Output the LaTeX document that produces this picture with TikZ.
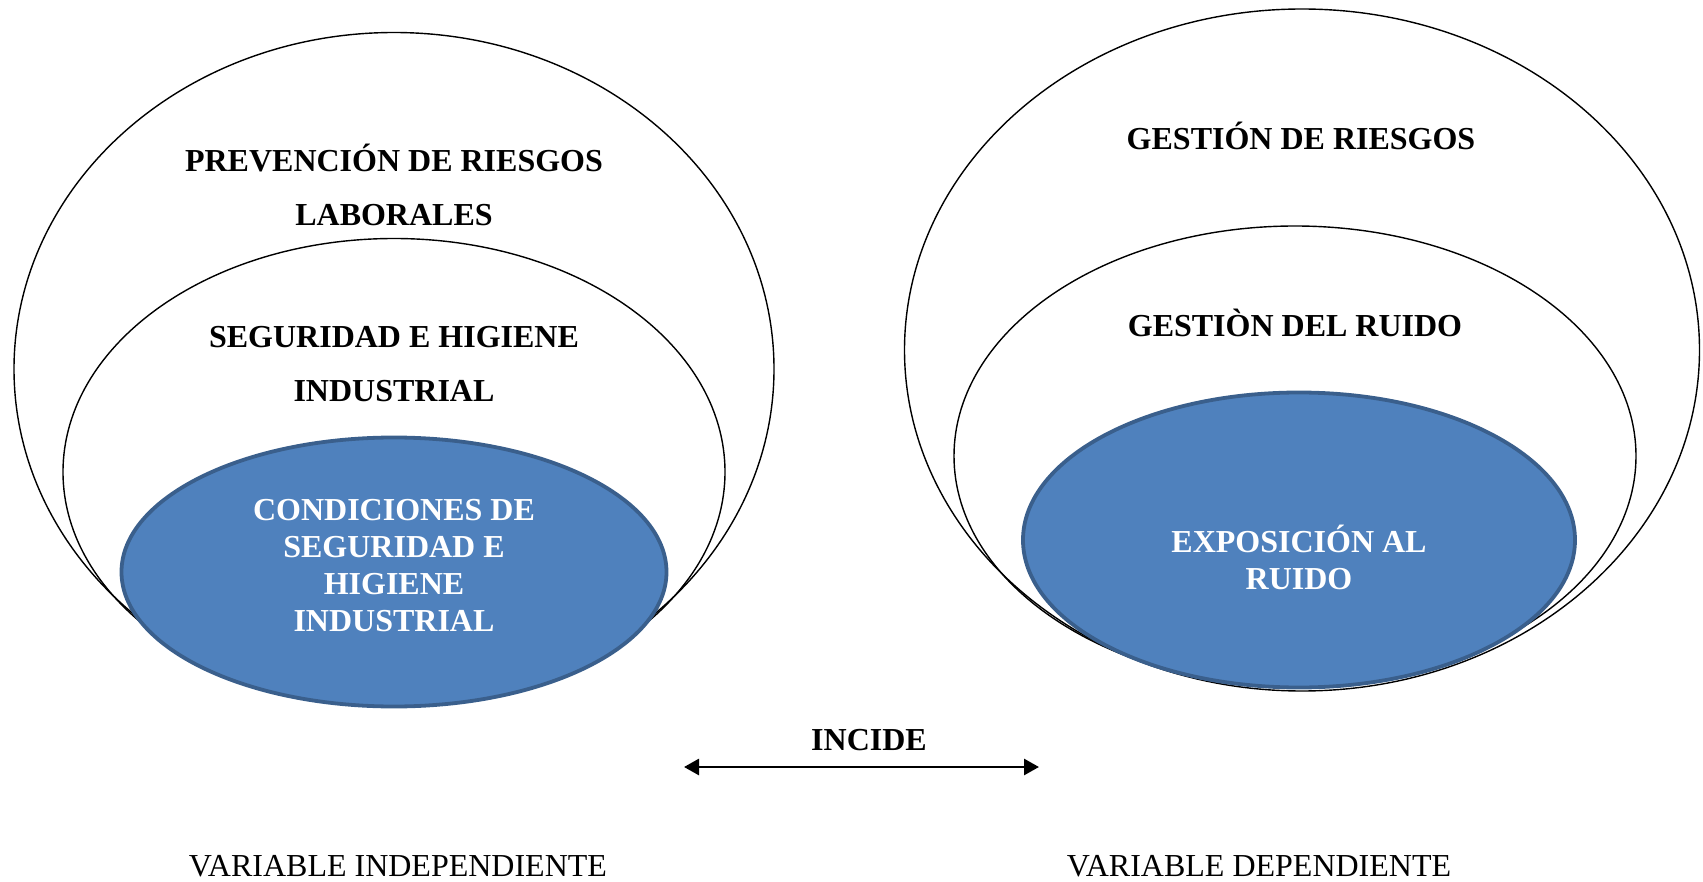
\documentclass[tikz,border=0pt]{standalone}
\usepackage{fontspec}
\setmainfont{Liberation Serif}
\usetikzlibrary{shapes.geometric,arrows.meta}
\definecolor{bluefill}{HTML}{4F81BD}
\definecolor{blueedge}{HTML}{3A5F8C}
\begin{document}
\begin{tikzpicture}[x=1pt,y=-1pt,
 ring/.style={draw=black,line width=1.4pt,ellipse,inner sep=0pt,outer sep=0pt},
 core/.style={draw=blueedge,fill=bluefill,line width=3.8pt,ellipse,inner sep=0pt,outer sep=0pt},
 lbl/.style={font=\fontsize{32}{54}\selectfont\bfseries,align=center,inner sep=0pt},
 clbl/.style={font=\fontsize{32}{37}\selectfont\bfseries,align=center,text=white,inner sep=0pt},
 captxt/.style={font=\fontsize{32}{37}\selectfont,inner sep=0pt}]
\useasboundingbox (0,0) rectangle (1703,882);
% left group
\node[ring,minimum width=760pt,minimum height=673pt] (LO) at (394,369) {};
\node[ring,minimum width=662pt,minimum height=467pt] (LM) at (394,472) {};
\node[core,minimum width=545pt,minimum height=269pt] (LB) at (394,572) {};
\node[lbl] (LOt) at (394,185) {PREVENCIÓN DE RIESGOS\\LABORALES};
\node[lbl] (LMt) at (394,364) {SEGURIDAD E HIGIENE\\INDUSTRIAL};
\node[clbl] (LBt) at (394,566) {CONDICIONES DE\\SEGURIDAD E\\HIGIENE\\INDUSTRIAL};
% right group
\node[ring,minimum width=795pt,minimum height=682pt] (RO) at (1302,350) {};
\node[ring,minimum width=682pt,minimum height=460pt] (RM) at (1295,456) {};
\node[core,minimum width=552pt,minimum height=295pt] (RB) at (1299,540) {};
\node[lbl] (ROt) at (1301,136) {GESTIÓN DE RIESGOS};
\node[lbl] (RMt) at (1295,323) {GESTIÒN DEL RUIDO};
\node[clbl] (RBt) at (1299,557) {EXPOSICIÓN AL\\RUIDO};
% relation
\node[lbl] (inc) at (869,740) {INCIDE};
\coordinate (aL) at (684,767);
\coordinate (aR) at (1039,767);
\draw[line width=2.8pt,{Triangle[length=15pt,width=16pt]}-{Triangle[length=15pt,width=16pt]}] (aL) -- (aR);
% captions
\node[captxt] (vi) at (398,866) {VARIABLE INDEPENDIENTE};
\node[captxt] (vd) at (1259,866) {VARIABLE DEPENDIENTE};
\end{tikzpicture}
\end{document}
